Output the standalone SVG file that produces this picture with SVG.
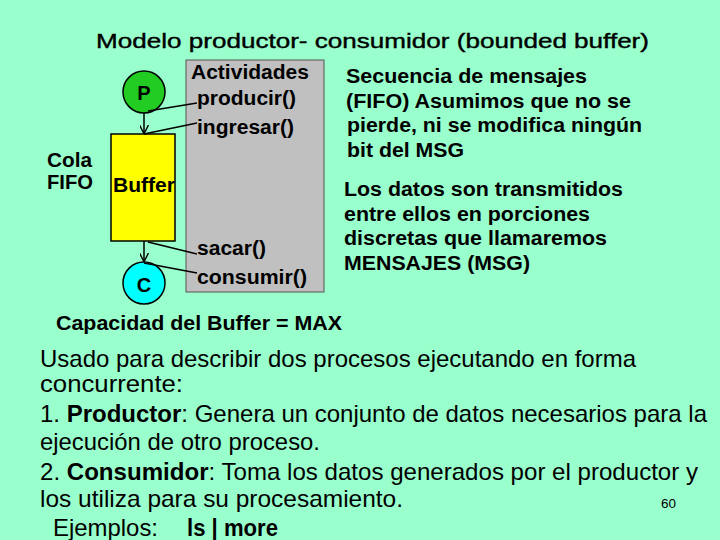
<svg xmlns="http://www.w3.org/2000/svg" width="720" height="540" viewBox="0 0 720 540">
<style>
text{font-family:"Liberation Sans",Arial,sans-serif;fill:#000}
.b{font-weight:bold;font-size:20px}
.n{font-weight:bold;font-size:20px}
.body{font-size:24px}
.ln{stroke:#000;stroke-width:1.5;fill:none}
</style>
<defs>
<marker id="ah" viewBox="0 0 10 10" refX="9" refY="5" markerWidth="9" markerHeight="9" orient="auto" markerUnits="userSpaceOnUse">
<path d="M0,0 L10,5 L0,10" fill="none" stroke="#000" stroke-width="1.5"/>
</marker>
</defs>
<rect width="720" height="540" fill="#99FFCC"/>
<text x="96" y="48" font-size="21" stroke="#000" stroke-width="0.4" textLength="553" lengthAdjust="spacingAndGlyphs">Modelo productor- consumidor (bounded buffer)</text>
<g id="actividades">
<rect x="186" y="60" width="138" height="232" fill="#C0C0C0" stroke="#555" stroke-width="1"/>
<text class="b" x="191" y="79" textLength="118" lengthAdjust="spacingAndGlyphs">Actividades</text>
<text class="b" x="197" y="105" textLength="99" lengthAdjust="spacingAndGlyphs">producir()</text>
<text class="b" x="197" y="134" textLength="97" lengthAdjust="spacingAndGlyphs">ingresar()</text>
<text class="b" x="197" y="255" textLength="69" lengthAdjust="spacingAndGlyphs">sacar()</text>
<text class="b" x="197" y="284" textLength="110" lengthAdjust="spacingAndGlyphs">consumir()</text>
</g>
<g id="buffer">
<rect x="111" y="134" width="64" height="107" fill="#FFFF00" stroke="#000" stroke-width="1.5"/>
<text class="b" x="113" y="192" textLength="62" lengthAdjust="spacingAndGlyphs">Buffer</text>
</g>
<g id="cola">
<text class="b" x="47" y="167" textLength="45" lengthAdjust="spacingAndGlyphs">Cola</text>
<text class="b" x="47" y="189" textLength="46" lengthAdjust="spacingAndGlyphs">FIFO</text>
</g>
<g id="P">
<circle cx="144" cy="92" r="21" fill="#22CC22" stroke="#000" stroke-width="1.5"/>
<text class="b" x="144" y="100" text-anchor="middle">P</text>
</g>
<g id="C">
<circle cx="144" cy="283" r="21" fill="#00FFFF" stroke="#000" stroke-width="1.5"/>
<text class="b" x="144" y="292" text-anchor="middle">C</text>
</g>
<g id="connectors">
<line class="ln" x1="144" y1="113" x2="144" y2="133" marker-end="url(#ah)"/>
<line class="ln" x1="144" y1="241" x2="144" y2="261" marker-end="url(#ah)"/>
<line class="ln" x1="148" y1="111" x2="197" y2="103"/>
<line class="ln" x1="144" y1="134" x2="197" y2="123"/>
<line class="ln" x1="148" y1="242" x2="197" y2="254"/>
<line class="ln" x1="144" y1="263" x2="197" y2="273"/>
</g>
<g id="notes">
<text class="n" x="346" y="83" textLength="241" lengthAdjust="spacingAndGlyphs">Secuencia de mensajes</text>
<text class="n" x="346" y="108" textLength="285" lengthAdjust="spacingAndGlyphs">(FIFO) Asumimos que no se</text>
<text class="n" x="347" y="132" textLength="295" lengthAdjust="spacingAndGlyphs">pierde, ni se modifica ningún</text>
<text class="n" x="347" y="157" textLength="117" lengthAdjust="spacingAndGlyphs">bit del MSG</text>
<text class="n" x="344" y="196" textLength="279" lengthAdjust="spacingAndGlyphs">Los datos son transmitidos</text>
<text class="n" x="344" y="221" textLength="246" lengthAdjust="spacingAndGlyphs">entre ellos en porciones</text>
<text class="n" x="344" y="245" textLength="263" lengthAdjust="spacingAndGlyphs">discretas que llamaremos</text>
<text class="n" x="344" y="270" textLength="186" lengthAdjust="spacingAndGlyphs">MENSAJES (MSG)</text>
<text class="n" x="56" y="330" textLength="286" lengthAdjust="spacingAndGlyphs">Capacidad del Buffer = MAX</text>
</g>
<g id="body">
<text class="body" x="40" y="367" textLength="596" lengthAdjust="spacingAndGlyphs">Usado para describir dos procesos ejecutando en forma</text>
<text class="body" x="40" y="392" textLength="143" lengthAdjust="spacingAndGlyphs">concurrente:</text>
<text class="body" x="40" y="422" textLength="667" lengthAdjust="spacingAndGlyphs">1. <tspan font-weight="bold">Productor</tspan>: Genera un conjunto de datos necesarios para la</text>
<text class="body" x="40" y="450" textLength="280" lengthAdjust="spacingAndGlyphs">ejecución de otro proceso.</text>
<text class="body" x="40" y="480" textLength="658" lengthAdjust="spacingAndGlyphs">2. <tspan font-weight="bold">Consumidor</tspan>: Toma los datos generados por el productor y</text>
<text class="body" x="40" y="507" textLength="363" lengthAdjust="spacingAndGlyphs">los utiliza para su procesamiento.</text>
<text class="body" x="53" y="536" textLength="105" lengthAdjust="spacingAndGlyphs">Ejemplos:</text>
<text class="body" x="187" y="536" font-weight="bold" textLength="91" lengthAdjust="spacingAndGlyphs">ls | more</text>
<text x="661" y="508" font-size="13" textLength="15" lengthAdjust="spacingAndGlyphs">60</text>
</g>
</svg>
